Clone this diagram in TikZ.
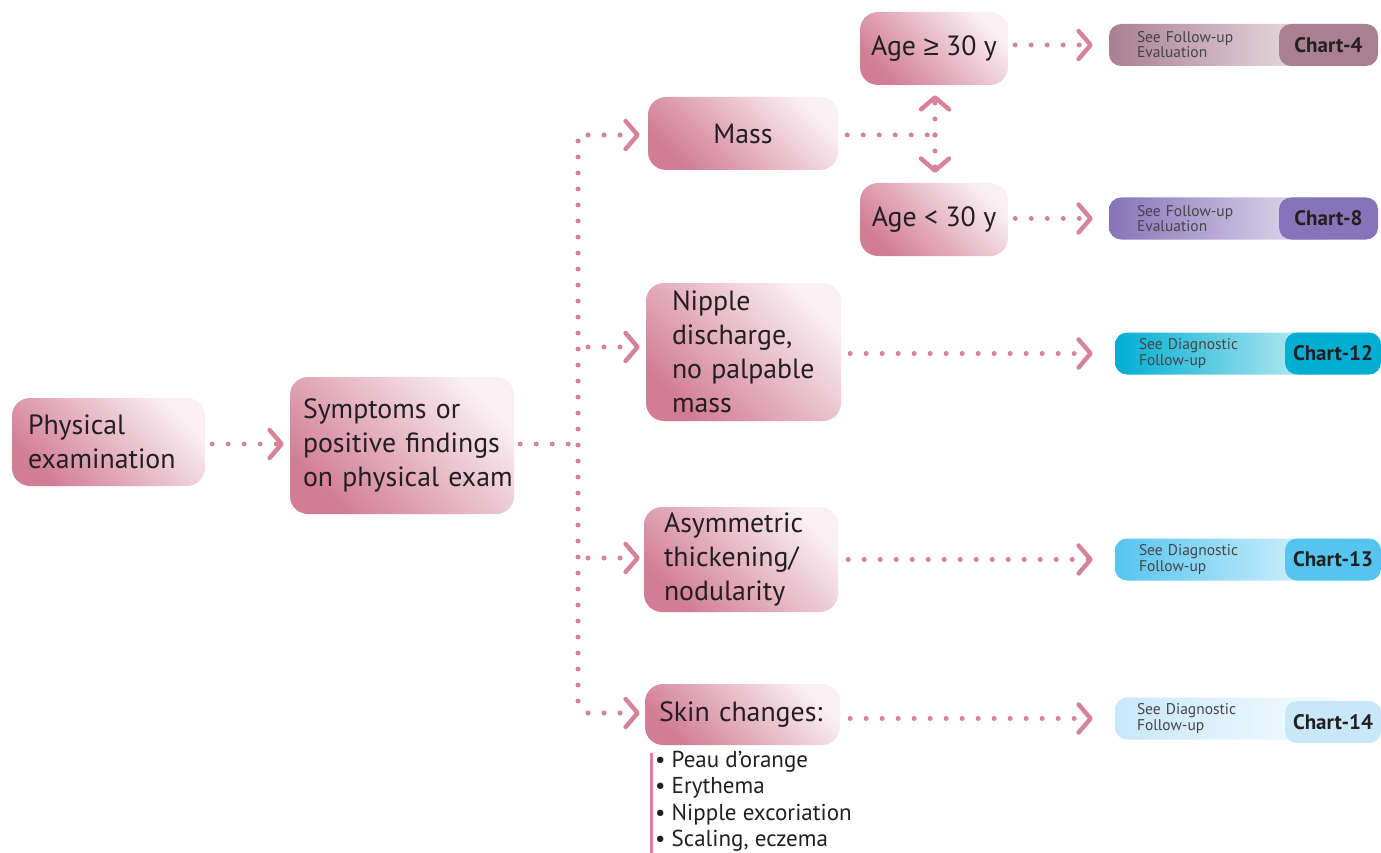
\documentclass[tikz,border=0pt]{standalone}
\usepackage{fontspec}
\setmainfont{PT Sans}
\newfontfamily\relfont{Liberation Sans}
\usetikzlibrary{arrows.meta}

\definecolor{pinkdk}{RGB}{210,124,150}
\definecolor{pinklt}{RGB}{250,240,243}
\definecolor{dotc}{RGB}{214,130,155}
\definecolor{txt}{RGB}{35,31,32}
\definecolor{subtxt}{RGB}{70,68,70}
\definecolor{c4}{RGB}{170,128,145}
\definecolor{c8}{RGB}{135,115,185}
\definecolor{c12}{RGB}{0,174,210}
\definecolor{c13}{RGB}{85,197,240}
\definecolor{c14}{RGB}{200,232,250}

\tikzset{
  box/.style={rounded corners=18pt, left color=pinkdk, right color=pinklt,
    shading angle=135, text=txt, inner ysep=0pt,
    font=\fontsize{27.8}{34}\selectfont},
  dots/.style={draw=dotc, line width=5pt, line cap=round,
    dash pattern=on 0pt off 16pt},
  dotarrow/.style={dots,
    -{Straight Barb[length=12pt, width=28pt, line width=4.4pt, round]}},
  chartbox/.style={rounded corners=12pt, minimum height=42pt,
    left color=#1, right color=white, shading angle=90,
    align=left, text=subtxt,
    font=\fontsize{15.5}{13.5}\selectfont},
  chartlabel/.style={rounded corners=12pt, fill=#1, minimum height=42pt,
    text=txt, font=\fontsize{21}{24}\selectfont\bfseries, inner xsep=0pt},
  listline/.style={draw=dotc, line width=3pt}
}

\begin{document}
\begin{tikzpicture}[x=1pt, y=-1pt]
\useasboundingbox (0,0) rectangle (1381,853);

% main boxes
\node[box, minimum width=193pt, minimum height=88pt, text width=161pt,
  inner xsep=16pt, align=left] (pe) at (108.5,442) {Physical\\examination};
\node[box, minimum width=224pt, minimum height=137pt, text width=198pt,
  inner xsep=13pt, align=left] (sym) at (402,445.5)
  {\mbox{Symptoms or}\\\mbox{positive findings}\\\mbox{on physical exam}};
\node[box, minimum width=190pt, minimum height=73pt, align=center] (mass)
  at (743,133.5) {Mass};
\node[box, minimum width=148pt, minimum height=73pt, align=center] (age1)
  at (934,48.5) {Age {\relfont ≥} 30 y};
\node[box, minimum width=148pt, minimum height=73pt, align=center] (age2)
  at (934,219.5) {Age < 30 y};
\node[box, minimum width=195pt, minimum height=138pt, text width=143pt,
  inner xsep=26pt, align=left] (nip) at (743.5,352)
  {Nipple\\discharge,\\\mbox{no palpable}\\mass};
\node[box, minimum width=194pt, minimum height=105pt, text width=154pt,
  inner xsep=20pt, align=left] (asym) at (741,559.5)
  {Asymmetric\\thickening/\\nodularity};
\node[box, minimum width=195pt, minimum height=61pt, text width=167pt,
  inner xsep=14pt, align=left] (skin) at (742.5,714.5) {\mbox{Skin changes:}};

% skin change list
\node[anchor=north west, inner sep=0pt, align=left, text=txt,
  font=\fontsize{23}{26.5}\selectfont] (sl) at (655,751)
  {• Peau d’orange\\• Erythema\\• Nipple excoriation\\• Scaling, eczema};
\coordinate (lt) at (651,753);
\coordinate (lb) at (651,853);
\draw[listline] (lt) -- (lb);

% chart references
\node[chartbox=c4, minimum width=269pt, text width=213pt, inner xsep=28pt]
  (ch4) at (1243.5,45) {See Follow-up\\Evaluation};
\node[chartlabel=c4, minimum width=99pt] (k4) at (1328.5,45) {Chart-4};
\node[chartbox=c8, minimum width=269pt, text width=213pt, inner xsep=28pt]
  (ch8) at (1243.5,218.5) {See Follow-up\\Evaluation};
\node[chartlabel=c8, minimum width=99pt] (k8) at (1328.5,218.5) {Chart-8};
\node[chartbox=c12, minimum width=266pt, text width=218pt, inner xsep=24pt]
  (ch12) at (1248,353.5) {See Diagnostic\\Follow-up};
\node[chartlabel=c12, minimum width=96pt] (k12) at (1333,353.5) {Chart-12};
\node[chartbox=c13, minimum width=266pt, text width=218pt, inner xsep=24pt]
  (ch13) at (1248,559.5) {See Diagnostic\\Follow-up};
\node[chartlabel=c13, minimum width=96pt] (k13) at (1333,559.5) {Chart-13};
\node[chartbox=c14, minimum width=266pt, text width=222pt, inner xsep=22pt]
  (ch14) at (1248,718.5) {See Diagnostic\\Follow-up};
\node[chartlabel=c14, minimum width=96pt] (k14) at (1333,722) {Chart-14};

% junctions
\coordinate (j) at (578,444);
\coordinate (b1) at (578,135);
\coordinate (b2) at (578,347);
\coordinate (b3) at (578,558);
\coordinate (b4) at (578,713);
\coordinate (m) at (935,135);

% connectors
\draw[dotarrow, shorten <=7pt, shorten >=6pt] (pe.east |- j) -- (j -| sym.west);
\draw[dots, shorten <=6pt] (sym.east |- j) -- (j);
\draw[dots, shorten <=6pt] (b1) -- (b4);
\draw[dotarrow, shorten <=10pt, shorten >=8pt] (b1) -- (b1 -| mass.west);
\draw[dotarrow, shorten <=10pt, shorten >=6pt] (b2) -- (b2 -| nip.west);
\draw[dotarrow, shorten <=10pt, shorten >=4pt] (b3) -- (b3 -| asym.west);
\draw[dotarrow, shorten <=10pt, shorten >=5pt] (b4) -- (b4 -| skin.west);

\draw[dots, shorten <=9pt] (m -| mass.east) -- (m);
\draw[dotarrow, shorten >=10pt] (m) -- (m |- age1.south);
\draw[dotarrow, shorten >=10pt] (m) -- (m |- age2.north);

\draw[dotarrow, shorten <=7pt, shorten >=16pt] (ch4.west -| age1.east) -- (ch4.west);
\draw[dotarrow, shorten <=7pt, shorten >=16pt] (ch8.west -| age2.east) -- (ch8.west);
\draw[dotarrow, shorten <=9pt, shorten >=22pt] (nip.east |- ch12.west) -- (ch12.west);
\draw[dotarrow, shorten <=10pt, shorten >=22pt] (asym.east |- ch13.west) -- (ch13.west);
\draw[dotarrow, shorten <=10pt, shorten >=22pt] (skin.east |- ch14.west) -- (ch14.west);
\end{tikzpicture}
\end{document}
